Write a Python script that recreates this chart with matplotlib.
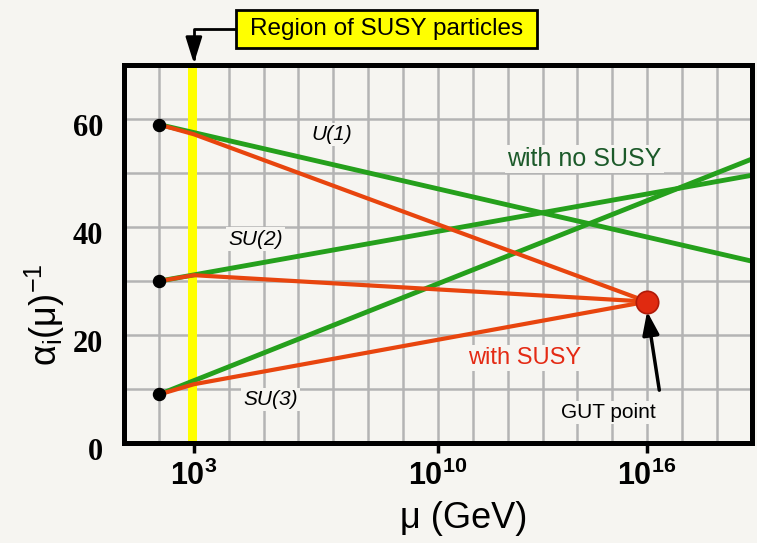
import numpy as np
import matplotlib
matplotlib.use("Agg")
import matplotlib.pyplot as plt
from matplotlib.patches import Rectangle
from matplotlib.transforms import ScaledTranslation

plt.rcParams['font.family'] = ['Liberation Sans', 'DejaVu Sans']
plt.rcParams['mathtext.fontset'] = 'custom'
plt.rcParams['mathtext.rm'] = 'Liberation Sans'
plt.rcParams['mathtext.bf'] = 'Liberation Sans:bold'
plt.rcParams['mathtext.it'] = 'Liberation Sans:italic'

# log10(mu / GeV) positions
x_no_susy = [2, 19]
x_susy = [2, 3, 16]

# inverse couplings, Standard Model running (no SUSY)
u1_no_susy = [59, 33.7]
su2_no_susy = [30, 49.6]
su3_no_susy = [9, 52.6]

# with SUSY (kink at 10^3 GeV, meet at GUT point)
u1_susy = [59, 57.2, 26.2]
su2_susy = [30, 31.1, 26.2]
su3_susy = [9, 10.9, 26.2]

start_values = [59, 30, 9]
gut_point = (16, 26.2)

xtick_pos = [3, 10, 16]
xtick_labels = [r'$\mathbf{10^{3}}$', r'$\mathbf{10^{10}}$', r'$\mathbf{10^{16}}$']
ytick_pos = [0, 20, 40, 60]

bg = '#f6f5f1'
green = '#25a01c'
red = '#e8450e'

fig = plt.figure(figsize=(7.57, 5.43), dpi=100, facecolor=bg)
ax = fig.add_axes([0.164, 0.184, 0.829, 0.696], facecolor=bg)

ax.set_xlim(1, 19)
ax.set_ylim(0, 70)

# grid every decade and every 10 units
ax.set_xticks(xtick_pos)
ax.set_xticks(range(1, 19), minor=True)
ax.set_yticks(ytick_pos)
ax.set_yticks([10, 30, 50], minor=True)
ax.grid(which='both', color='#b4b4b4', lw=1.8, zorder=0)
ax.set_axisbelow(True)

# region of SUSY particles
ax.axvspan(2.84, 3.08, color='#ffff00', zorder=1, lw=0)

ax.plot(x_no_susy, u1_no_susy, color=green, lw=3.5, zorder=3, solid_capstyle='butt')
ax.plot(x_no_susy, su2_no_susy, color=green, lw=3.5, zorder=3, solid_capstyle='butt')
ax.plot(x_no_susy, su3_no_susy, color=green, lw=3.5, zorder=3, solid_capstyle='butt')
ax.plot(x_susy, u1_susy, color=red, lw=3.0, zorder=4)
ax.plot(x_susy, su2_susy, color=red, lw=3.0, zorder=4)
ax.plot(x_susy, su3_susy, color=red, lw=3.0, zorder=4)

ax.scatter([2] * len(start_values), start_values, s=75, color='black', zorder=5)
ax.scatter([gut_point[0]], [gut_point[1]], s=260, color='#e02a10',
           edgecolors='#b01a08', linewidths=1.2, zorder=6)

tb = dict(facecolor=bg, edgecolor='none', pad=1.5)
ax.text(6.97, 57.2, 'U(1)', style='italic', fontsize=15, ha='center', va='center', bbox=tb, zorder=2)
ax.text(4.77, 37.8, 'SU(2)', style='italic', fontsize=15, ha='center', va='center', bbox=tb, zorder=2)
ax.text(5.2, 8.1, 'SU(3)', style='italic', fontsize=15, ha='center', va='center', bbox=tb, zorder=2)
ax.text(14.2, 52.6, 'with no SUSY', color='#1c5a2a', fontsize=18, ha='center', va='center', bbox=tb, zorder=2)
ax.text(12.5, 15.7, 'with SUSY', color='#e42a14', fontsize=17, ha='center', va='center', bbox=tb, zorder=2)
ax.text(14.9, 5.7, 'GUT point', fontsize=15, ha='center', va='center', bbox=tb, zorder=2)

ax.annotate('', xy=(16.0, 24.4), xytext=(16.35, 9.8),
            arrowprops=dict(arrowstyle='-|>,head_length=1.4,head_width=0.5',
                            color='black', lw=2.5, shrinkA=0, shrinkB=0), zorder=7)

for s in ax.spines.values():
    s.set_linewidth(3.6)
    s.set_zorder(8)

ax.tick_params(axis='x', which='major', length=7, width=2.5, direction='out', pad=6)
ax.tick_params(axis='x', which='minor', length=0)
ax.tick_params(axis='y', which='both', length=0, pad=15)
ax.set_xticklabels(xtick_labels, fontsize=22)
ax.set_yticklabels([str(v) for v in ytick_pos], fontsize=22,
                   family='Liberation Serif', fontweight='bold')
for lab in ax.get_yticklabels():
    lab.set_transform(lab.get_transform() + ScaledTranslation(0, -0.06, fig.dpi_scale_trans))

ax.set_xlabel('\u03bc (GeV)', fontsize=26, va='center')
ax.xaxis.set_label_coords(0.541, -0.2)
ax.set_ylabel(r'$\mathregular{\alpha_i(\mu)^{-1}}$', fontsize=26, va='center')
ax.yaxis.set_label_coords(-0.127, 0.34)

# label box above the plot
fig.patches.append(Rectangle((236 / 757, 1 - 48 / 543), 301 / 757, 38 / 543,
                             transform=fig.transFigure, facecolor='#ffff00',
                             edgecolor='black', lw=2, zorder=5))
fig.text(386.5 / 757, 1 - 29 / 543, 'Region of SUSY particles', fontsize=17.5,
         ha='center', va='center', zorder=6)
ax.annotate('', xy=(3.0, 70.3), xycoords='data',
            xytext=(236 / 757, 1 - 29 / 543), textcoords='figure fraction',
            arrowprops=dict(arrowstyle='-|>,head_length=1.6,head_width=0.5',
                            connectionstyle='angle,angleA=0,angleB=90,rad=0',
                            color='black', lw=2, shrinkA=0, shrinkB=0),
            annotation_clip=False)

fig.savefig('out.png', dpi=100, facecolor=bg)
